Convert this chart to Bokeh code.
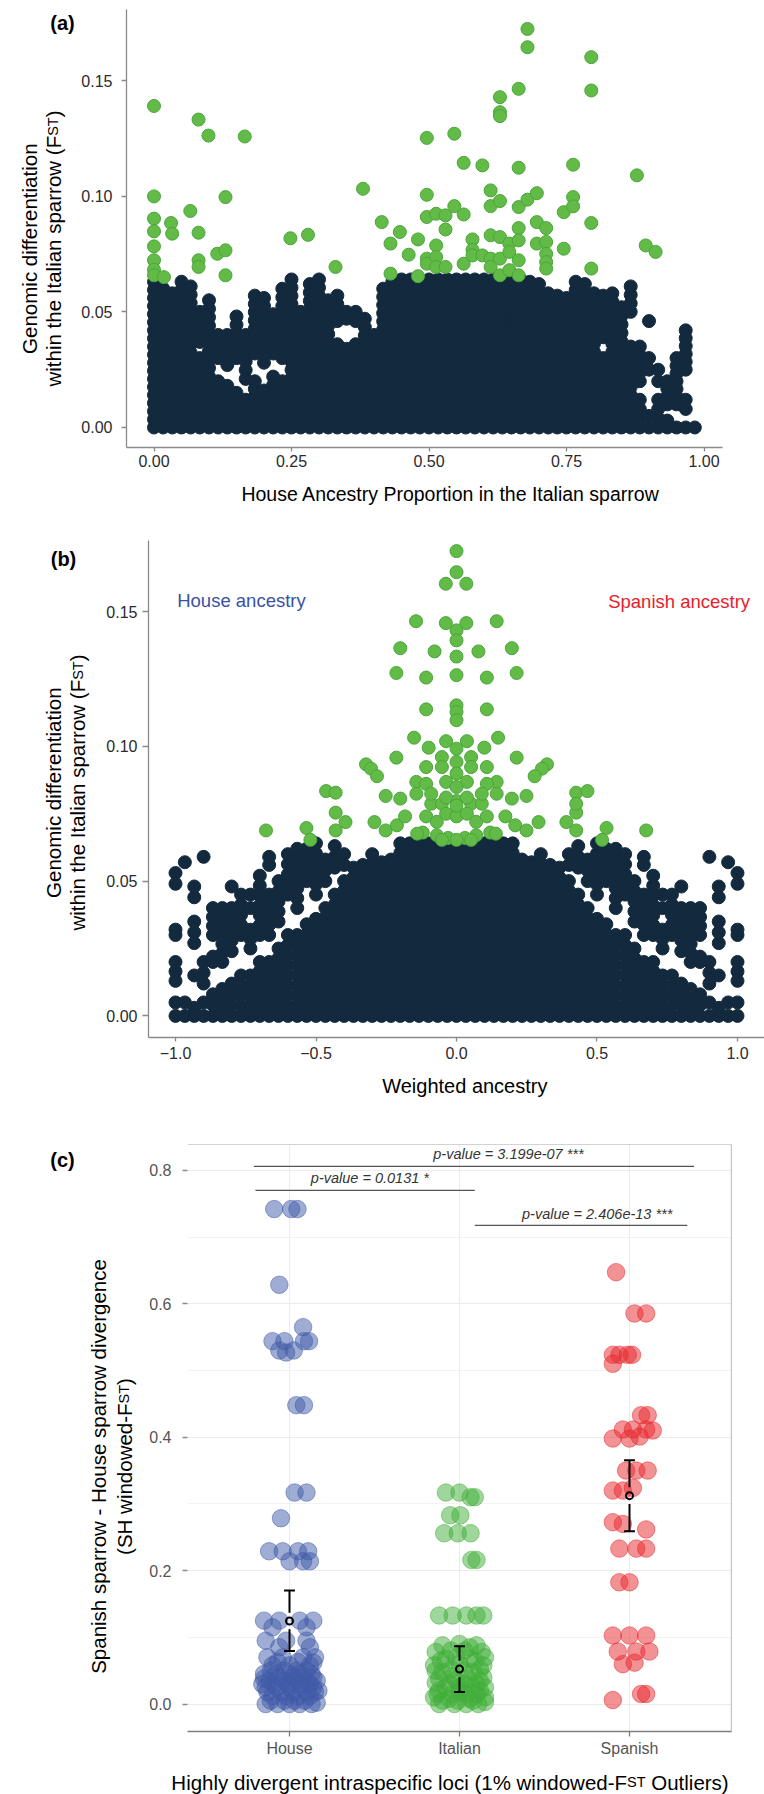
from math import pi
from bokeh.plotting import figure
from bokeh.models import Label, Span, FixedTicker, NumeralTickFormatter, Range1d
from bokeh.embed import file_html
from bokeh.resources import INLINE

FONT = "Liberation Sans"

# ------------------------------------------------------------------ data (a)
a_xticks = [0.0, 0.25, 0.5, 0.75, 1.0]
a_yticks = [0.0, 0.05, 0.10, 0.15]
# outlier windows (green): (house ancestry proportion, Fst)
a_green = [
    (0.0, 0.139), (0.0, 0.0999), (0.0, 0.0903), (0.0, 0.0848), (0.0, 0.0783), (0.0, 0.0723),
    (0.0, 0.0682), (0.0, 0.0658), (0.018, 0.065), (0.031, 0.0884), (0.033, 0.0838),
    (0.066, 0.0936), (0.081, 0.1331), (0.081, 0.0842), (0.081, 0.0723), (0.081, 0.0694),
    (0.099, 0.1262), (0.115, 0.0751), (0.130, 0.0996), (0.130, 0.0766), (0.130, 0.0658),
    (0.165, 0.1258), (0.248, 0.0818), (0.280, 0.0833), (0.330, 0.0694), (0.380, 0.1032),
    (0.414, 0.0888), (0.430, 0.0795), (0.430, 0.0665), (0.447, 0.0845), (0.463, 0.0747),
    (0.480, 0.0813), (0.480, 0.0654), (0.496, 0.1252), (0.496, 0.1006), (0.496, 0.0910),
    (0.496, 0.0730), (0.496, 0.0708), (0.513, 0.0924), (0.513, 0.0787), (0.513, 0.0737),
    (0.513, 0.0694), (0.530, 0.0917), (0.530, 0.0856), (0.530, 0.0694), (0.546, 0.1270),
    (0.546, 0.0957), (0.563, 0.1144), (0.563, 0.0921), (0.563, 0.0708), (0.579, 0.0813),
    (0.579, 0.0768), (0.579, 0.0744), (0.597, 0.1133), (0.597, 0.0744), (0.612, 0.1025),
    (0.612, 0.0957), (0.612, 0.0831), (0.612, 0.0730), (0.612, 0.0694), (0.629, 0.1428),
    (0.629, 0.1363), (0.629, 0.1346), (0.629, 0.0979), (0.629, 0.0823), (0.629, 0.0730),
    (0.629, 0.0658), (0.646, 0.0795), (0.646, 0.0759), (0.646, 0.0680), (0.663, 0.1464),
    (0.663, 0.1123), (0.663, 0.0953), (0.663, 0.0862), (0.663, 0.0809), (0.663, 0.0723),
    (0.663, 0.0658), (0.679, 0.1723), (0.679, 0.1644), (0.679, 0.0985), (0.696, 0.1013),
    (0.696, 0.0888), (0.696, 0.0795), (0.713, 0.0862), (0.713, 0.0802), (0.713, 0.0751),
    (0.713, 0.0715), (0.713, 0.0687), (0.745, 0.0931), (0.745, 0.0773), (0.762, 0.1136),
    (0.762, 0.0996), (0.762, 0.0956), (0.795, 0.1601), (0.795, 0.1457), (0.795, 0.0884),
    (0.795, 0.0687), (0.878, 0.1090), (0.894, 0.0787), (0.912, 0.0759),
]
# dense background windows (dark): columns (ancestry, Fst from, Fst to)
a_dark_cols = [
    (0.0000, 0.0, 0.063), (0.0167, 0.0, 0.060), (0.0333, 0.0, 0.058), (0.0500, 0.0, 0.063),
    (0.0667, 0.0, 0.061), (0.0833, 0.0, 0.030), (0.0833, 0.037, 0.050), (0.1000, 0.0, 0.055),
    (0.1167, 0.0, 0.020), (0.1167, 0.030, 0.040), (0.1333, 0.0, 0.018), (0.1333, 0.027, 0.040),
    (0.1500, 0.0, 0.015), (0.1500, 0.030, 0.048), (0.1667, 0.0, 0.012), (0.1667, 0.021, 0.040),
    (0.1833, 0.0, 0.020), (0.1833, 0.032, 0.057), (0.2000, 0.0, 0.016), (0.2000, 0.028, 0.056),
    (0.2167, 0.0, 0.022), (0.2167, 0.032, 0.049), (0.2333, 0.0, 0.020), (0.2333, 0.030, 0.060),
    (0.2500, 0.0, 0.064), (0.2667, 0.0, 0.050), (0.2833, 0.0, 0.062), (0.3000, 0.0, 0.064),
    (0.3167, 0.0, 0.055), (0.3333, 0.0, 0.036), (0.3333, 0.046, 0.057),
    (0.3500, 0.0, 0.034), (0.3500, 0.047, 0.050), (0.3667, 0.0, 0.036), (0.3667, 0.046, 0.050),
    (0.3833, 0.0, 0.047), (0.4000, 0.0, 0.040), (0.4167, 0.0, 0.060), (0.4333, 0.0, 0.063),
    (0.4500, 0.0, 0.064), (0.4667, 0.0, 0.064), (0.4833, 0.0, 0.064), (0.5000, 0.0, 0.064),
    (0.5167, 0.0, 0.064), (0.5333, 0.0, 0.064), (0.5500, 0.0, 0.064), (0.5667, 0.0, 0.064),
    (0.5833, 0.0, 0.064), (0.6000, 0.0, 0.064), (0.6167, 0.0, 0.064), (0.6333, 0.0, 0.064),
    (0.6500, 0.0, 0.064), (0.6667, 0.0, 0.064), (0.6833, 0.0, 0.063), (0.7000, 0.0, 0.062),
    (0.7167, 0.0, 0.058), (0.7333, 0.0, 0.057), (0.7500, 0.0, 0.056), (0.7667, 0.0, 0.063),
    (0.7833, 0.0, 0.062), (0.8000, 0.0, 0.058), (0.8167, 0.0, 0.030), (0.8167, 0.039, 0.057),
    (0.8333, 0.0, 0.058), (0.8500, 0.0, 0.052), (0.8667, 0.0, 0.035), (0.8667, 0.050, 0.061),
    (0.8833, 0.0, 0.012), (0.8833, 0.020, 0.035), (0.9000, 0.0, 0.005), (0.9000, 0.025, 0.030),
    (0.9000, 0.046, 0.046), (0.9167, 0.0, 0.012), (0.9167, 0.020, 0.025),
    (0.9333, 0.0, 0.003), (0.9333, 0.010, 0.020), (0.9500, 0.0, 0.0), (0.9500, 0.010, 0.030),
    (0.9667, 0.0, 0.0), (0.9667, 0.008, 0.012), (0.9667, 0.025, 0.042), (0.9833, 0.0, 0.0),
]

# ------------------------------------------------------------------ data (b)
b_xticks = [-1.0, -0.5, 0.0, 0.5, 1.0]
b_xlabels = ["\u22121.0", "\u22120.5", "0.0", "0.5", "1.0"]
b_yticks = [0.0, 0.05, 0.10, 0.15]
b_green = [
    (0.0, 0.1724), (0.0, 0.1646), (-0.038, 0.1603), (0.035, 0.1603),
    (-0.144, 0.1464), (-0.038, 0.1457), (0.035, 0.1457), (0.143, 0.1464), (0.0, 0.143), (0.0, 0.1393),
    (-0.2, 0.1364), (-0.078, 0.1352), (0.078, 0.1352), (0.197, 0.1364), (0.0, 0.1333),
    (-0.214, 0.1272), (-0.108, 0.1255), (0.0, 0.1264), (0.108, 0.1255), (0.214, 0.1272),
    (-0.108, 0.1137), (0.0, 0.1152), (0.0, 0.1127), (0.0, 0.1097), (0.108, 0.1137),
    (-0.151, 0.1032), (0.148, 0.1032), (-0.099, 0.0995), (0.099, 0.0995),
    (-0.037, 0.1019), (0.037, 0.1019), (0.0, 0.0991), (-0.214, 0.0958), (0.214, 0.0958),
    (-0.322, 0.0933), (-0.304, 0.0917), (-0.283, 0.0889), (0.322, 0.0933), (0.304, 0.0917),
    (0.278, 0.0889), (-0.108, 0.0923), (0.108, 0.0923), (-0.052, 0.096), (-0.052, 0.0923),
    (0.052, 0.096), (0.052, 0.0923), (0.0, 0.0942), (0.0, 0.0899), (-0.143, 0.0868),
    (0.143, 0.0868), (-0.037, 0.0868), (0.037, 0.0868), (0.0, 0.0849), (-0.108, 0.0861),
    (0.108, 0.0861), (-0.464, 0.0834), (-0.43, 0.0828), (0.426, 0.0828), (0.466, 0.0834),
    (-0.252, 0.0816), (-0.2, 0.0806), (0.197, 0.0806), (0.249, 0.0816), (-0.143, 0.0824),
    (0.143, 0.0824), (-0.09, 0.0787), (-0.052, 0.0787), (0.0, 0.0797), (0.052, 0.0787),
    (0.09, 0.0787), (-0.43, 0.0754), (-0.395, 0.0719), (0.426, 0.0754), (0.426, 0.0787),
    (-0.292, 0.0719), (0.391, 0.0719), (-0.678, 0.0688), (-0.534, 0.0697), (-0.52, 0.0653),
    (-0.43, 0.0688), (0.426, 0.0688), (0.534, 0.0697), (0.518, 0.0653), (0.675, 0.0688),
    (-0.252, 0.0688), (-0.212, 0.0707), (-0.183, 0.074), (0.174, 0.074), (0.209, 0.0707),
    (0.249, 0.0688), (0.292, 0.0719), (-0.108, 0.074), (-0.07, 0.072), (-0.037, 0.075),
    (0.0, 0.074), (0.037, 0.075), (0.07, 0.072), (0.108, 0.074), (-0.12, 0.068),
    (-0.07, 0.067), (-0.03, 0.066), (0.03, 0.066), (0.07, 0.067), (0.12, 0.068),
    (-0.052, 0.0653), (0.0, 0.0653), (0.052, 0.0653), (-0.14, 0.0676), (0.14, 0.0676),
    (-0.09, 0.0824), (0.09, 0.0824), (0.0, 0.078), (-0.037, 0.081), (0.037, 0.081),
]
b_dark_cols = [
    (-1.0, 0.0, 0.005), (-1.0, 0.013, 0.020), (-1.0, 0.030, 0.032), (-1.0, 0.049, 0.053),
    (-0.9667, 0.0, 0.005), (-0.9667, 0.057, 0.057),
    (-0.9333, 0.0, 0.003), (-0.9333, 0.015, 0.016), (-0.9333, 0.027, 0.035), (-0.9333, 0.044, 0.048),
    (-0.9, 0.0, 0.005), (-0.9, 0.012, 0.020), (-0.9, 0.059, 0.059),
    (-0.8667, 0.0, 0.008), (-0.8667, 0.020, 0.022), (-0.8667, 0.030, 0.040),
    (-0.8333, 0.0, 0.010), (-0.8333, 0.020, 0.040),
    (-0.8, 0.0, 0.012), (-0.8, 0.024, 0.040), (-0.8, 0.048, 0.048),
    (-0.7667, 0.0, 0.015), (-0.7667, 0.030, 0.045),
    (-0.7333, 0.0, 0.015), (-0.7333, 0.025, 0.032), (-0.7333, 0.040, 0.045),
    (-0.7, 0.0, 0.020), (-0.7, 0.030, 0.052),
    (-0.6667, 0.0, 0.020), (-0.6667, 0.030, 0.045), (-0.6667, 0.056, 0.059),
    (-0.6333, 0.0, 0.025), (-0.6333, 0.035, 0.050),
    (-0.6, 0.0, 0.030), (-0.6, 0.045, 0.060), (-0.5667, 0.0, 0.030), (-0.5667, 0.040, 0.062),
    (-0.5333, 0.0, 0.034), (-0.5333, 0.050, 0.062), (-0.5, 0.0, 0.036), (-0.5, 0.045, 0.064),
    (-0.4667, 0.0, 0.040), (-0.4667, 0.050, 0.058), (-0.4333, 0.0, 0.045), (-0.4333, 0.055, 0.063),
    (-0.4, 0.0, 0.050), (-0.4, 0.056, 0.060), (-0.3667, 0.0, 0.055), (-0.3333, 0.0, 0.056),
    (-0.3, 0.0, 0.060), (-0.2667, 0.0, 0.057), (-0.2333, 0.0, 0.058),
    (-0.2, 0.0, 0.064), (-0.1667, 0.0, 0.064), (-0.1333, 0.0, 0.064), (-0.1, 0.0, 0.064),
    (-0.0667, 0.0, 0.064), (-0.0333, 0.0, 0.064), (0.0, 0.0, 0.064), (0.0333, 0.0, 0.064),
    (0.0667, 0.0, 0.064), (0.1, 0.0, 0.064), (0.1333, 0.0, 0.064), (0.1667, 0.0, 0.064),
    (0.2, 0.0, 0.064), (0.2333, 0.0, 0.058), (0.2667, 0.0, 0.057), (0.3, 0.0, 0.060),
    (0.3333, 0.0, 0.056), (0.3667, 0.0, 0.055), (0.4, 0.0, 0.050), (0.4, 0.056, 0.060),
    (0.4333, 0.0, 0.045), (0.4333, 0.055, 0.063), (0.4667, 0.0, 0.040), (0.4667, 0.050, 0.058),
    (0.5, 0.0, 0.036), (0.5, 0.045, 0.064), (0.5333, 0.0, 0.034), (0.5333, 0.050, 0.062),
    (0.5667, 0.0, 0.030), (0.5667, 0.040, 0.062), (0.6, 0.0, 0.030), (0.6, 0.045, 0.060),
    (0.6333, 0.0, 0.025), (0.6333, 0.035, 0.050),
    (0.6667, 0.0, 0.020), (0.6667, 0.030, 0.045), (0.6667, 0.056, 0.059),
    (0.7, 0.0, 0.020), (0.7, 0.030, 0.052),
    (0.7333, 0.0, 0.015), (0.7333, 0.025, 0.032), (0.7333, 0.040, 0.045),
    (0.7667, 0.0, 0.015), (0.7667, 0.030, 0.045),
    (0.8, 0.0, 0.012), (0.8, 0.024, 0.040), (0.8, 0.048, 0.048),
    (0.8333, 0.0, 0.010), (0.8333, 0.020, 0.040),
    (0.8667, 0.0, 0.008), (0.8667, 0.020, 0.022), (0.8667, 0.030, 0.040),
    (0.9, 0.0, 0.005), (0.9, 0.012, 0.020), (0.9, 0.059, 0.059),
    (0.9333, 0.0, 0.003), (0.9333, 0.015, 0.016), (0.9333, 0.027, 0.035), (0.9333, 0.044, 0.048),
    (0.9667, 0.0, 0.005), (0.9667, 0.057, 0.057),
    (1.0, 0.0, 0.005), (1.0, 0.013, 0.020), (1.0, 0.030, 0.032), (1.0, 0.049, 0.053),
]

# ------------------------------------------------------------------ data (c)
c_groups = ["House", "Italian", "Spanish"]
c_colors = ["#3f5aa8", "#3fae38", "#e8252b"]
c_yticks = [0.0, 0.2, 0.4, 0.6, 0.8]
c_yminor = [0.1, 0.3, 0.5, 0.7]
# (jitter offset from group centre, divergence)
c_house = [
    (-0.09, 0.742), (0.01, 0.742), (0.047, 0.742), (-0.06, 0.6285),
    (0.08, 0.565), (-0.10, 0.544), (-0.03, 0.544), (0.085, 0.544), (0.115, 0.544),
    (-0.06, 0.530), (0.025, 0.530), (-0.02, 0.527), (0.04, 0.448), (0.085, 0.448),
    (0.03, 0.317), (0.10, 0.317), (-0.05, 0.2785),
    (-0.12, 0.229), (-0.04, 0.229), (0.05, 0.229), (0.11, 0.229), (0.0, 0.214), (0.08, 0.214), (0.12, 0.214),
    (-0.15, 0.125), (-0.06, 0.125), (0.06, 0.125), (0.14, 0.125), (-0.10, 0.115), (0.10, 0.115),
    (-0.14, 0.095), (-0.02, 0.095), (0.10, 0.095), (-0.06, 0.085), (0.12, 0.085),
    (-0.13, 0.070), (-0.04, 0.070), (0.08, 0.070), (0.15, 0.070),
    (-0.10, 0.058), (0.0, 0.058), (0.12, 0.058),
    (-0.15, 0.045), (-0.08, 0.045), (0.0, 0.045), (0.06, 0.045), (0.13, 0.045),
    (-0.12, 0.035), (-0.04, 0.035), (0.03, 0.035), (0.10, 0.035), (0.16, 0.035),
    (-0.14, 0.025), (-0.07, 0.025), (0.0, 0.025), (0.07, 0.025), (0.14, 0.025),
    (-0.10, 0.012), (-0.02, 0.012), (0.05, 0.012), (0.12, 0.012),
    (-0.14, 0.0), (-0.07, 0.0), (0.0, 0.0), (0.06, 0.0), (0.13, 0.0), (0.16, 0.002),
    (-0.11, 0.005), (-0.03, 0.005), (0.03, 0.005), (0.09, 0.005),
    (-0.13, 0.018), (-0.05, 0.018), (0.02, 0.018), (0.10, 0.018), (0.15, 0.018),
    (-0.09, 0.030), (-0.01, 0.030), (0.06, 0.030), (0.12, 0.030),
    (-0.15, 0.038), (-0.06, 0.040), (0.02, 0.040), (0.08, 0.040), (0.14, 0.040),
    (-0.11, 0.050), (-0.03, 0.050), (0.04, 0.050), (0.10, 0.050),
    (-0.07, 0.063), (0.05, 0.063), (0.14, 0.062), (-0.16, 0.030), (0.17, 0.020),
]
c_italian = [
    (-0.08, 0.317), (0.0, 0.317), (0.065, 0.310), (0.09, 0.310),
    (-0.055, 0.283), (0.005, 0.283), (-0.09, 0.256), (-0.01, 0.256), (0.065, 0.256),
    (0.07, 0.216), (0.10, 0.216),
    (-0.12, 0.1327), (-0.04, 0.1327), (0.04, 0.1327), (0.10, 0.1327), (0.14, 0.1327),
    (-0.10, 0.088), (0.10, 0.088), (-0.14, 0.078), (0.03, 0.080), (0.13, 0.078),
    (-0.08, 0.068), (0.06, 0.068), (-0.15, 0.058), (0.0, 0.060), (0.14, 0.058),
    (-0.10, 0.048), (0.08, 0.048), (-0.04, 0.042), (0.14, 0.040),
    (-0.14, 0.032), (-0.06, 0.030), (0.03, 0.030), (0.10, 0.030),
    (-0.12, 0.020), (0.0, 0.018), (0.12, 0.020),
    (-0.15, 0.010), (-0.06, 0.008), (0.06, 0.008), (0.15, 0.010),
    (-0.12, 0.0), (-0.03, 0.0), (0.04, 0.0), (0.11, 0.0),
    (-0.10, 0.005), (-0.01, 0.005), (0.08, 0.005), (0.15, 0.003),
    (-0.13, 0.015), (-0.04, 0.015), (0.04, 0.015), (0.10, 0.015),
    (-0.08, 0.025), (0.0, 0.025), (0.07, 0.025), (0.15, 0.025),
    (-0.12, 0.038), (-0.02, 0.036), (0.05, 0.038), (0.12, 0.035),
    (-0.14, 0.050), (-0.05, 0.052), (0.03, 0.050), (0.12, 0.052),
    (-0.11, 0.065), (-0.02, 0.070), (0.09, 0.064), (0.15, 0.070),
    (-0.05, 0.080), (0.06, 0.085), (0.0, 0.090),
]
c_spanish = [
    (-0.079, 0.6474), (0.029, 0.5855), (0.098, 0.5855),
    (-0.098, 0.5235), (-0.059, 0.5235), (-0.01, 0.5235), (0.015, 0.5235), (-0.098, 0.510),
    (0.068, 0.433), (0.107, 0.433), (-0.039, 0.4115), (0.02, 0.4115), (0.098, 0.4115), (0.137, 0.410),
    (-0.098, 0.398), (0.0, 0.398), (0.06, 0.401),
    (-0.02, 0.350), (0.04, 0.350), (0.107, 0.350),
    (-0.098, 0.320), (-0.039, 0.320), (0.02, 0.324),
    (-0.098, 0.2726), (-0.039, 0.270), (0.098, 0.2617),
    (-0.06, 0.233), (0.04, 0.233), (0.098, 0.233), (-0.06, 0.1825), (0.0, 0.1825),
    (-0.098, 0.1027), (0.0, 0.1027), (0.098, 0.1027), (-0.069, 0.0787), (0.04, 0.0787),
    (0.117, 0.0787), (-0.039, 0.0598), (0.03, 0.062),
    (-0.098, 0.006), (0.068, 0.015), (0.098, 0.015),
]
c_mean = [0.1245, 0.0525, 0.3124]
c_lo = [0.0795, 0.018, 0.259]
c_hi = [0.170, 0.0865, 0.3655]
c_pvals = ["p-value = 3.199e-07 ***", "p-value = 0.0131 *", "p-value = 2.406e-13 ***"]
c_p_x0 = [0.79, 0.80, 2.09]
c_p_x1 = [3.38, 2.09, 3.34]
c_p_y = [0.806, 0.770, 0.7177]
c_p_tx = [2.288, 1.473, 2.81]
c_p_ty = [0.824, 0.788, 0.735]

# ------------------------------------------------------------------ helpers
ARIAL = {' ': 278, '(': 333, ')': 333, '-': 333, '%': 889, '1': 556, 'A': 667, 'F': 611,
         'G': 778, 'H': 722, 'I': 278, 'O': 778, 'S': 667, 'T': 611, 'W': 944, 'a': 556,
         'b': 556, 'c': 500, 'd': 556, 'e': 556, 'f': 278, 'g': 556, 'h': 556, 'i': 222,
         'l': 222, 'm': 833, 'n': 556, 'o': 556, 'p': 556, 'r': 333, 's': 500, 't': 278,
         'u': 556, 'v': 500, 'w': 722, 'y': 500, 'x': 500, 'k': 500}


def tw(s, size):
    return sum(ARIAL.get(ch, 556) for ch in s) / 1000.0 * size


def expand(cols, step):
    xs, ys = [], []
    for x, lo, hi in cols:
        n = max(int(round((hi - lo) / step)), 0)
        for i in range(n + 1):
            xs.append(x)
            ys.append(lo + (hi - lo) * i / n if n else lo)
    return xs, ys


def make_fig(left, top, fw, fh, fig_h, xr, yr):
    p = figure(width=764, height=fig_h, x_range=Range1d(*xr), y_range=Range1d(*yr),
               output_backend="svg", toolbar_location=None, title=None,
               min_border_left=left, min_border_right=764 - left - fw,
               min_border_top=top, min_border_bottom=fig_h - top - fh)
    p.outline_line_color = None
    p.background_fill_color = "white"
    p.border_fill_color = "white"
    return p


def style_axis(ax, ticks, label_color, line_color, tick_out, standoff, size="16px"):
    ax.ticker = FixedTicker(ticks=ticks)
    ax.major_label_text_font = FONT
    ax.major_label_text_font_size = size
    ax.major_label_text_color = label_color
    ax.axis_line_color = line_color
    ax.axis_line_width = 1.3
    ax.major_tick_line_color = line_color
    ax.major_tick_line_width = 1.3
    ax.major_tick_out = tick_out
    ax.major_tick_in = 0
    ax.minor_tick_line_color = None
    ax.major_label_standoff = standoff


DARK = "#132a3e"
GREEN_FILL = "#63bb47"
GREEN_LINE = "#4aa63b"
TICK_TXT = "#2b2b2b"
AXIS_GREY = "#8a8a8a"

# ------------------------------------------------------------------ panel (a)
pa = make_fig(126, 9, 596, 438, 520, (-0.05, 1.0336), (-0.00865, 0.1807))
pa.grid.grid_line_color = None
dx, dy = expand(a_dark_cols, 0.0036)
pa.scatter(dx, dy, size=13, fill_color=DARK, line_color=DARK)
pa.scatter([g[0] for g in a_green], [g[1] for g in a_green], size=13,
           fill_color=GREEN_FILL, line_color=GREEN_LINE, line_width=1)
style_axis(pa.xaxis[0], a_xticks, TICK_TXT, AXIS_GREY, 4, 3)
style_axis(pa.yaxis[0], a_yticks, TICK_TXT, AXIS_GREY, 5, 9)
pa.xaxis[0].formatter = NumeralTickFormatter(format="0.00")
pa.yaxis[0].formatter = NumeralTickFormatter(format="0.00")

# ------------------------------------------------------------------ panel (b)
pb = make_fig(148, 20, 616, 497, 590, (-1.0961, 1.0961), (-0.00801, 0.17634))
pb.grid.grid_line_color = None
dx, dy = expand(b_dark_cols, 0.0036)
pb.scatter(dx, dy, size=13, fill_color=DARK, line_color=DARK)
pb.scatter([g[0] for g in b_green], [g[1] for g in b_green], size=13,
           fill_color=GREEN_FILL, line_color=GREEN_LINE, line_width=1)
style_axis(pb.xaxis[0], b_xticks, TICK_TXT, AXIS_GREY, 4, 5)
style_axis(pb.yaxis[0], b_yticks, TICK_TXT, AXIS_GREY, 6, 5)
pb.xaxis[0].major_label_overrides = {t: l for t, l in zip(b_xticks, b_xlabels)}
pb.yaxis[0].formatter = NumeralTickFormatter(format="0.00")

# ------------------------------------------------------------------ panel (c)
pc = make_fig(187, 34, 544, 587, 684, (0.4, 3.6), (-0.0412, 0.8388))
yt = FixedTicker(ticks=c_yticks, minor_ticks=c_yminor)
pc.ygrid[0].ticker = yt
pc.ygrid[0].grid_line_color = "#ebebeb"
pc.ygrid[0].grid_line_width = 1
pc.ygrid[0].minor_grid_line_color = "#f2f2f2"
pc.ygrid[0].minor_grid_line_width = 1
pc.xgrid[0].ticker = FixedTicker(ticks=[1, 2, 3])
pc.xgrid[0].grid_line_color = "#ebebeb"
pc.xgrid[0].grid_line_width = 1

for i, (grp, col) in enumerate(zip([c_house, c_italian, c_spanish], c_colors)):
    gx = i + 1
    pc.scatter([gx + d for d, _ in grp], [v for _, v in grp], size=17.5,
               fill_color=col, fill_alpha=0.5, line_color=col, line_alpha=0.5)

gap = 0.0125
cap = 0.032
xs = [1, 2, 3]
pc.segment(x0=xs, y0=c_lo, x1=xs, y1=[m - gap for m in c_mean], line_color="black", line_width=2)
pc.segment(x0=xs, y0=[m + gap for m in c_mean], x1=xs, y1=c_hi, line_color="black", line_width=2)
pc.segment(x0=[x - cap for x in xs], y0=c_hi, x1=[x + cap for x in xs], y1=c_hi, line_color="black", line_width=2)
pc.segment(x0=[x - cap for x in xs], y0=c_lo, x1=[x + cap for x in xs], y1=c_lo, line_color="black", line_width=2)
pc.scatter(xs, c_mean, size=7, fill_color=None, line_color="black", line_width=2)

pc.segment(x0=c_p_x0, y0=c_p_y, x1=c_p_x1, y1=c_p_y, line_color="#555555", line_width=1.2)
for t, tx, ty in zip(c_pvals, c_p_tx, c_p_ty):
    pc.add_layout(Label(x=tx, y=ty, text=t, text_align="center", text_baseline="middle",
                        text_font=FONT, text_font_style="italic", text_font_size="14.5px",
                        text_color="#333333"))

style_axis(pc.xaxis[0], [1, 2, 3], "#555555", "#7f7f7f", 5, 3)
pc.xaxis[0].major_label_overrides = {1: c_groups[0], 2: c_groups[1], 3: c_groups[2]}
style_axis(pc.yaxis[0], c_yticks, "#555555", "#8a8a8a", 5, 11)
pc.yaxis[0].ticker = yt
pc.yaxis[0].axis_line_color = None
pc.yaxis[0].formatter = NumeralTickFormatter(format="0.0")
pc.add_layout(Span(location=0.8388, dimension="width", line_color="#a8a8a8", line_width=1.2))
pc.add_layout(Span(location=3.6, dimension="height", line_color="#8a8a8a", line_width=1.2))


# ------------------------------------------ text layers over each panel (titles, letters)
def make_overlay(fig_h):
    o = figure(width=764, height=fig_h, x_range=Range1d(0, 764), y_range=Range1d(fig_h, 0),
               output_backend="svg", toolbar_location=None, title=None,
               x_axis_type=None, y_axis_type=None,
               min_border_left=0, min_border_right=0, min_border_top=0, min_border_bottom=0)
    o.outline_line_color = None
    o.background_fill_color = None
    o.border_fill_color = None
    return o


oa, ob, oc = make_overlay(520), make_overlay(590), make_overlay(684)
TOPS = {id(oa): 0, id(ob): 520, id(oc): 1110}


def rich_label(o, pieces, cx, cy, vertical, color="#000000"):
    top = TOPS[id(o)]
    total = sum(tw(t, s) for t, s in pieces)
    base = max(s for _, s in pieces)
    off = 0.28 * base
    pos = -total / 2.0
    for t, s in pieces:
        stripped = t.lstrip(" ")
        pos += tw(t[:len(t) - len(stripped)], s)
        if vertical:
            px, py, ang = cx + off, cy - pos, pi / 2
        else:
            px, py, ang = cx + pos, cy + off, 0.0
        o.add_layout(Label(x=px, y=py - top, text=stripped, angle=ang,
                           text_align="left", text_baseline="alphabetic",
                           text_font=FONT, text_font_size=f"{s}px", text_color=color))
        pos += tw(stripped, s)


def letter(o, txt, cx, cy):
    o.add_layout(Label(x=cx, y=cy - TOPS[id(o)], text=txt, text_align="center",
                       text_baseline="middle", text_font=FONT, text_font_style="bold",
                       text_font_size="20px", text_color="#000000"))


SUB = 14.5
BIG = 20.5
letter(oa, "(a)", 62, 22)
letter(ob, "(b)", 63, 558)
letter(oc, "(c)", 62, 1159)
rich_label(oa, [("House Ancestry Proportion in the Italian sparrow", 19.5)], 449, 488, False)
rich_label(oa, [("Genomic differentiation", BIG)], 23.5, 248, True)
rich_label(oa, [("within the Italian sparrow (F", BIG), ("ST", SUB), (")", BIG)], 47, 248, True)
rich_label(ob, [("Weighted ancestry", 20)], 464.5, 1080, False)
rich_label(ob, [("Genomic differentiation", BIG)], 47, 792, True)
rich_label(ob, [("within the Italian sparrow (F", BIG), ("ST", SUB), (")", BIG)], 71.5, 792, True)
rich_label(oc, [("Highly divergent intraspecific loci (1% windowed-F", BIG), ("ST", SUB),
                (" Outliers)", BIG)], 449.5, 1776, False)
rich_label(oc, [("Spanish sparrow - House sparrow divergence", BIG)], 92, 1466, True)
rich_label(oc, [("(SH windowed-F", BIG), ("ST", SUB), (")", BIG)], 118, 1466, True)
ob.add_layout(Label(x=176.7, y=600 - 520, text="House ancestry", text_align="left",
                    text_baseline="alphabetic", text_font=FONT, text_font_size="18.5px",
                    text_color="#3a51a3"))
ob.add_layout(Label(x=607.7, y=601 - 520, text="Spanish ancestry", text_align="left",
                    text_baseline="alphabetic", text_font=FONT, text_font_size="18.5px",
                    text_color="#e8202a"))

CSS = """<style>
html, body { margin: 0; padding: 0; }
body { position: relative; width: 764px; height: 1794px; overflow: hidden; }
body > div { position: absolute !important; left: 0 !important; display: block !important; }
body > div:nth-of-type(1) { top: 0px !important; }
body > div:nth-of-type(2) { top: 520px !important; }
body > div:nth-of-type(3) { top: 1110px !important; }
body > div:nth-of-type(4) { top: 0px !important; z-index: 10; }
body > div:nth-of-type(5) { top: 520px !important; z-index: 10; }
body > div:nth-of-type(6) { top: 1110px !important; z-index: 10; }
</style>"""

html = file_html([pa, pb, pc, oa, ob, oc], INLINE, "Sparrow ancestry and differentiation")
html = html.replace("</head>", CSS + "</head>", 1)
open("out.html", "w").write(html)
